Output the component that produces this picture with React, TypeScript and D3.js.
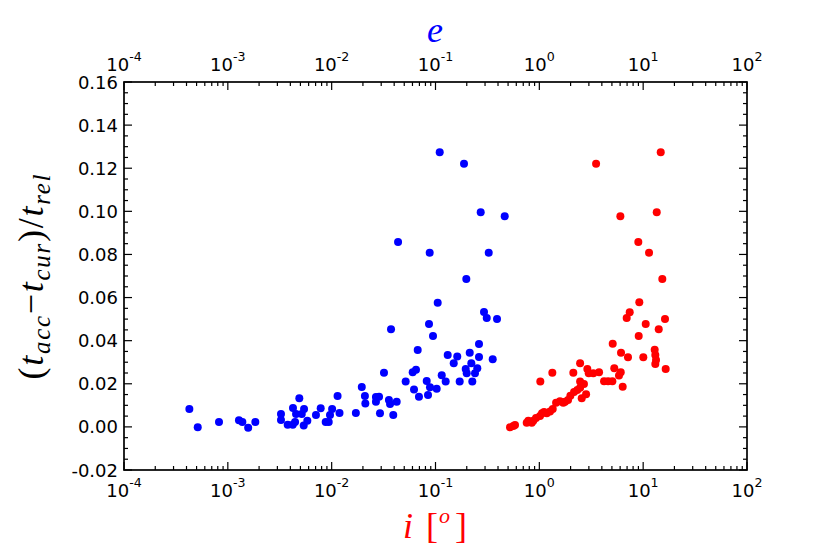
import React from "react";
import * as d3 from "d3";

// eccentricity e (top axis) vs relative time difference
const bluePoints: [number, number][] = [
  [4.26e-4, 0.0083], [5.13e-4, -0.0002], [8.22e-4, 0.0023], [1.28e-3, 0.0031], [1.38e-3, 0.0023],
  [1.57e-3, -0.0004], [1.84e-3, 0.0023], [3.25e-3, 0.006], [3.25e-3, 0.0032], [3.77e-3, 0.001],
  [4.22e-3, 0.001], [4.44e-3, 0.0023], [4.24e-3, 0.0088], [4.88e-3, 0.0133], [5.42e-3, 0.0083],
  [4.54e-3, 0.006], [5.15e-3, 0.006], [5.38e-3, 0.0007], [5.83e-3, 0.0029], [7.06e-3, 0.0055],
  [7.84e-3, 0.0086], [8.76e-3, 0.0023], [9.37e-3, 0.0023], [9.64e-3, 0.0055], [1.01e-2, 0.0083],
  [1.19e-2, 0.0064], [1.14e-2, 0.0143], [1.71e-2, 0.0064], [1.95e-2, 0.0185], [2.09e-2, 0.0143],
  [2.11e-2, 0.0108], [2.67e-2, 0.0139], [2.86e-2, 0.014], [2.67e-2, 0.0117], [3.56e-2, 0.0125],
  [4.23e-2, 0.0117], [3.65e-2, 0.0106], [2.92e-2, 0.0063], [3.92e-2, 0.0055], [3.19e-2, 0.0251],
  [3.73e-2, 0.0453], [5.16e-2, 0.021], [6.03e-2, 0.0253], [6.49e-2, 0.0265], [6.21e-2, 0.0174],
  [6.93e-2, 0.014], [6.74e-2, 0.0357], [8.23e-2, 0.0213], [8.85e-2, 0.0184], [0.1027, 0.0177],
  [8.47e-2, 0.0148], [8.66e-2, 0.0477], [9.46e-2, 0.0422], [0.1148, 0.0239], [0.1253, 0.021],
  [0.1311, 0.0334], [0.162, 0.0326], [0.1498, 0.0295], [0.171, 0.021], [0.1954, 0.0269],
  [0.1998, 0.0249], [0.2213, 0.0295], [0.2136, 0.0344], [0.2527, 0.0272], [0.2401, 0.0249],
  [0.2262, 0.021], [0.2624, 0.0385], [0.2624, 0.0324], [0.3556, 0.0314], [0.2931, 0.0533],
  [0.3114, 0.0505], [0.3913, 0.0501], [0.105, 0.0576], [0.1098, 0.1274], [0.1882, 0.1221],
  [0.2725, 0.0996], [0.4641, 0.0977], [4.36e-2, 0.0858], [8.79e-2, 0.0808], [0.3255, 0.0808],
  [0.198, 0.0686],
];

// inclination i in degrees (bottom axis) vs relative time difference
const redPoints: [number, number][] = [
  [14.76, 0.1274], [3.52, 0.1221], [13.51, 0.0996], [6.03, 0.0977], [8.98, 0.0858],
  [11.39, 0.0808], [15.29, 0.0686], [9.18, 0.0578], [7.42, 0.0532], [6.94, 0.0505],
  [16.23, 0.0501], [10.58, 0.0477], [14.12, 0.0453], [9.06, 0.0422], [5.09, 0.0386],
  [6.12, 0.0344], [7.14, 0.0323], [10.03, 0.0323], [12.91, 0.0358], [13.09, 0.0334],
  [13.3, 0.031], [13.09, 0.0292], [16.48, 0.0269], [2.47, 0.0295], [2.9, 0.0269],
  [2.99, 0.0249], [3.31, 0.0249], [3.76, 0.0253], [5.27, 0.0272], [6.08, 0.0253],
  [5.85, 0.0238], [4.2, 0.0212], [4.59, 0.0212], [5.05, 0.0212], [6.35, 0.0186],
  [1.334, 0.0251], [2.125, 0.0251], [1.022, 0.021], [2.47, 0.021], [2.47, 0.0182],
  [2.32, 0.0171], [2.82, 0.0151], [2.56, 0.0133], [1.99, 0.0145], [1.89, 0.0125],
  [1.7, 0.0112], [1.58, 0.0119], [1.45, 0.0112], [1.346, 0.0083], [1.268, 0.0071],
  [1.178, 0.0063], [1.061, 0.0063], [1.015, 0.0051], [0.875, 0.0029], [0.783, 0.0029],
  [0.756, 0.0019], [0.845, 0.0019], [0.583, 0.0009], [0.522, -0.0002], [0.562, 0.0004],
  [1.77, 0.0117], [0.929, 0.0041], [1.11, 0.0069], [2.16, 0.0162], [2.69, 0.0199],
];

const xDecades = [-4, -3, -2, -1, 0, 1, 2];
const yMajorTicks = [-0.02, 0, 0.02, 0.04, 0.06, 0.08, 0.1, 0.12, 0.14, 0.16];
const yTickLabels = ["-0.02", "0.00", "0.02", "0.04", "0.06", "0.08", "0.10", "0.12", "0.14", "0.16"];

const W = 830;
const H = 554;
const L = 124, R = 747, T = 82, B = 470;

export default function App() {
  const x = d3.scaleLog().domain([1e-4, 1e2]).range([L, R]);
  const y = d3.scaleLinear().domain([-0.02, 0.16]).range([B, T]);

  const xMinor: number[] = [];
  for (let d = -4; d < 2; d++) for (let k = 2; k <= 9; k++) xMinor.push(k * Math.pow(10, d));
  const yMinor = d3.range(-0.02, 0.1601, 0.005).filter(
    (v) => !yMajorTicks.some((m) => Math.abs(m - v) < 1e-6)
  );

  const major = 8, minor = 4;
  const tickStroke = { stroke: "#000", strokeWidth: 1.2 };
  const font = "DejaVu Sans";

  const expLabel = (dec: number, xx: number, yy: number, key: string) => (
    <text key={key} x={xx} y={yy} textAnchor="middle" fontFamily={font} fontSize={18} fill="#000">
      <tspan>10</tspan>
      <tspan fontSize={12.6} dy={-9.5}>{dec < 0 ? `-${-dec}` : `${dec}`}</tspan>
    </text>
  );

  return (
    <svg width={W} height={H} style={{ position: "absolute", left: 0, top: 0, background: "#fff" }}>
      <rect x={0} y={0} width={W} height={H} fill="#fff" />

      {/* points */}
      {bluePoints.map(([e, v], i) => (
        <circle key={`b${i}`} cx={x(e)} cy={y(v)} r={4} fill="#0000ff" />
      ))}
      {redPoints.map(([inc, v], i) => (
        <circle key={`r${i}`} cx={x(inc)} cy={y(v)} r={4} fill="#ff0000" />
      ))}

      {/* x ticks bottom & top */}
      {xDecades.map((d) => {
        const px = x(Math.pow(10, d));
        return (
          <g key={`xd${d}`}>
            <line x1={px} x2={px} y1={B} y2={B - major} {...tickStroke} />
            <line x1={px} x2={px} y1={T} y2={T + major} {...tickStroke} />
          </g>
        );
      })}
      {xMinor.map((v, i) => {
        const px = x(v);
        return (
          <g key={`xm${i}`}>
            <line x1={px} x2={px} y1={B} y2={B - minor} {...tickStroke} />
            <line x1={px} x2={px} y1={T} y2={T + minor} {...tickStroke} />
          </g>
        );
      })}

      {/* y ticks left & right */}
      {yMajorTicks.map((v) => {
        const py = y(v);
        return (
          <g key={`ym${v}`}>
            <line x1={L} x2={L + major} y1={py} y2={py} {...tickStroke} />
            <line x1={R} x2={R - major} y1={py} y2={py} {...tickStroke} />
          </g>
        );
      })}
      {yMinor.map((v, i) => {
        const py = y(v);
        return (
          <g key={`yn${i}`}>
            <line x1={L} x2={L + minor} y1={py} y2={py} {...tickStroke} />
            <line x1={R} x2={R - minor} y1={py} y2={py} {...tickStroke} />
          </g>
        );
      })}

      {/* frame */}
      <rect x={L} y={T} width={R - L} height={B - T} fill="none" stroke="#000" strokeWidth={1.7} />

      {/* tick labels */}
      {xDecades.map((d) => expLabel(d, x(Math.pow(10, d)), 496.5, `xb${d}`))}
      {xDecades.map((d) => expLabel(d, x(Math.pow(10, d)), 70.5, `xt${d}`))}
      {yMajorTicks.map((v, i) => (
        <text key={`yl${i}`} x={L - 6} y={y(v) + 6.5} textAnchor="end" fontFamily={font} fontSize={18} fill="#000">
          {yTickLabels[i]}
        </text>
      ))}

      {/* top axis label */}
      <text x={435} y={42} textAnchor="middle" fontFamily="Liberation Serif" fontStyle="italic" fontSize={36} fill="#0000ff">
        e
      </text>

      {/* bottom axis label */}
      <g fill="#ff0000" fontFamily="Liberation Serif" fontSize={36}>
        <text x={403} y={538} fontStyle="italic">i</text>
        <text x={426} y={538}>[</text>
        <text x={439} y={523} fontStyle="italic" fontSize={22}>o</text>
        <text x={455} y={538}>]</text>
      </g>

      {/* y axis label */}
      <text
        transform={`translate(43,277) rotate(-90)`}
        textAnchor="middle"
        fontFamily="Liberation Serif"
        fontSize={36}
        fill="#000"
        textLength={205}
        lengthAdjust="spacing"
      >
        <tspan>(</tspan>
        <tspan fontStyle="italic">t</tspan>
        <tspan fontStyle="italic" fontSize={25} dy={7}>acc</tspan>
        <tspan dy={-7}>−</tspan>
        <tspan fontStyle="italic">t</tspan>
        <tspan fontStyle="italic" fontSize={25} dy={7}>cur</tspan>
        <tspan dy={-7}>)/</tspan>
        <tspan fontStyle="italic">t</tspan>
        <tspan fontStyle="italic" fontSize={25} dy={7}>rel</tspan>
      </text>
    </svg>
  );
}
